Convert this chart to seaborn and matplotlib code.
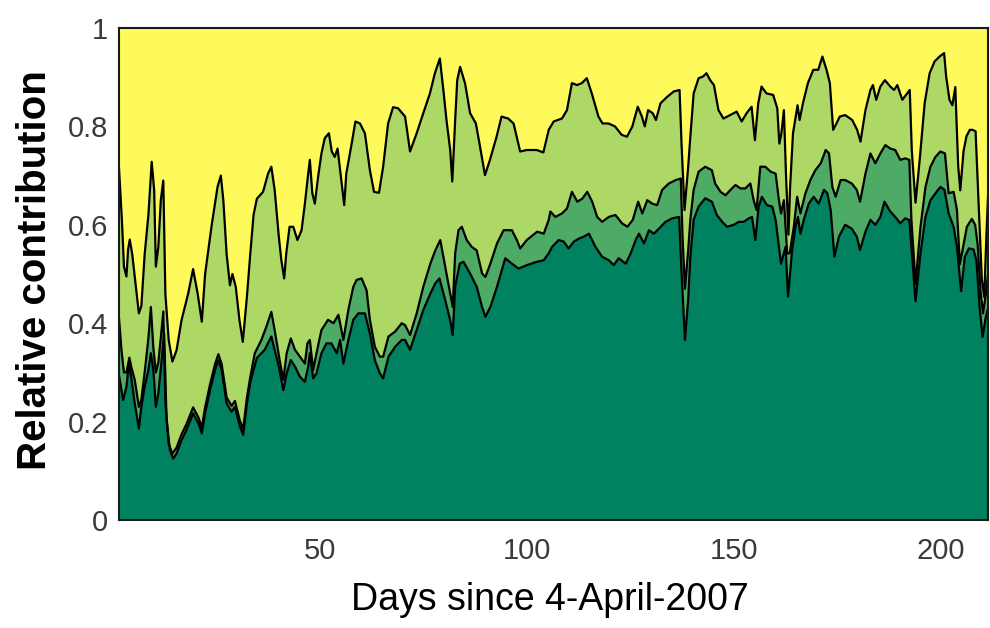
import numpy as np
import matplotlib
matplotlib.use("Agg")
import matplotlib.pyplot as plt
import seaborn as sns
import pandas as pd

# Upper edge of the "light" layer (cumulative share of the three lower groups)
top_days = [1.5, 2.2, 2.7, 3.3, 3.7, 4.1, 4.7, 5.3, 6.3, 6.9, 7.7, 8.6, 9.4, 10.0, 10.4, 11.0,
            11.6, 12.2, 12.7, 13.5, 14.4, 15.4, 16.6, 18.2, 19.4, 20.5, 21.5, 22.3, 23.9, 25.3,
            26.1, 26.7, 27.5, 28.3, 28.9, 29.7, 30.6, 31.4, 32.4, 33.2, 34.0, 34.8, 36.3, 37.5,
            38.3, 39.1, 40.1, 40.7, 41.4, 41.9, 42.7, 43.6, 44.6, 45.6, 46.4, 47.2, 47.6, 48.2,
            48.8, 49.6, 50.4, 51.2, 52.2, 52.9, 53.6, 54.3, 55.1, 55.9, 56.4, 57.7, 58.6, 59.7,
            60.9, 62.1, 63.1, 64.3, 65.3, 66.5, 67.7, 68.9, 70.6, 71.8, 73.4, 75.0, 76.6, 77.8,
            79.0, 79.9, 80.6, 81.5, 82.0, 82.7, 83.2, 83.9, 85.1, 86.3, 87.7, 88.7, 89.9, 91.1,
            92.7, 93.9, 95.5, 96.8, 98.4, 100.0, 102.4, 104.0, 105.3, 106.5, 108.5, 109.7, 110.9,
            112.1, 113.3, 114.5, 115.7, 117.3, 118.3, 119.7, 121.3, 122.9, 124.2, 125.5, 126.8,
            127.8, 128.5, 129.3, 130.4, 131.2, 132.3, 133.9, 135.5, 136.9, 137.4, 138.1, 139.0,
            139.5, 140.3, 141.5, 142.5, 143.4, 144.3, 145.2, 146.3, 147.5, 149.1, 150.7, 151.9,
            153.1, 154.3, 155.1, 155.9, 156.7, 157.9, 159.5, 160.5, 161.0, 161.5, 162.1, 162.6,
            163.2, 163.6, 164.3, 165.0, 165.4, 165.9, 166.7, 167.9, 169.2, 170.4, 171.4, 172.4,
            173.2, 174.0, 174.8, 175.6, 176.9, 178.6, 179.8, 180.6, 181.8, 183.0, 183.6, 184.4,
            185.4, 186.5, 187.8, 188.7, 189.5, 190.7, 192.5, 193.0, 193.9, 194.9, 196.1, 197.3,
            198.5, 199.7, 200.8, 201.3, 202.1, 202.8, 203.5, 204.2, 204.7, 205.5, 206.2, 207.0,
            207.7, 208.4, 208.9, 209.4, 209.9, 210.5, 211.0, 211.4]
top_share = [.715, .61, .515, .495, .55, .57, .54, .495, .42, .435, .54, .62, .728, .67, .515, .555,
             .65, .69, .46, .366, .322, .345, .406, .46, .51, .46, .403, .50, .60, .677,
             .70, .65, .54, .477, .50, .474, .406, .362, .454, .54, .62, .653, .667, .704,
             .718, .671, .576, .529, .491, .542, .596, .596, .569, .589, .643, .704, .732, .664,
             .643, .698, .745, .776, .786, .749, .738, .755, .698, .64, .704, .765, .810, .806,
             .786, .711, .667, .665, .718, .806, .839, .837, .82, .749, .786, .827, .867, .908,
             .938, .87, .813, .752, .688, .813, .894, .921, .887, .827, .806, .759, .701, .732,
             .779, .82, .816, .806, .749, .752, .752, .747, .793, .81, .816, .833, .888,
             .884, .888, .898, .867, .82, .806, .806, .80, .783, .779, .80, .84,
             .82, .80, .833, .827, .813, .847, .86, .871, .874, .76, .63, .72,
             .779, .867, .898, .901, .908, .894, .884, .833, .816, .823, .83, .81,
             .827, .84, .772, .847, .881, .867, .864, .837, .765, .786, .833, .704,
             .58, .677, .786, .823, .843, .813, .847, .888, .915, .915, .942, .915,
             .888, .793, .806, .82, .823, .813, .793, .769, .833, .874, .884, .854,
             .881, .894, .881, .874, .884, .854, .874, .75, .645, .732, .847, .908,
             .932, .942, .949, .901, .854, .843, .88, .72, .67, .75, .78, .793,
             .793, .79, .69, .59, .49, .453, .575, .657]

# Upper edge of the "medium" layer (cumulative share of the two lower groups)
mid_days = [1.5, 2.1, 2.7, 3.3, 4.0, 4.5, 5.3, 6.3, 6.9, 7.7, 8.6, 9.2, 9.8, 10.4, 11.0, 11.6,
            12.2, 12.7, 13.5, 14.4, 15.4, 16.6, 17.8, 19.4, 20.7, 21.5, 22.3, 23.5, 24.7, 25.5,
            26.3, 27.5, 28.7, 29.5, 30.7, 31.5, 32.4, 33.2, 34.3, 35.9, 37.1, 38.3, 39.1, 40.3,
            41.2, 42.0, 43.0, 44.0, 45.2, 46.4, 47.0, 47.6, 48.4, 49.2, 50.4, 52.0, 53.3, 54.5,
            55.7, 56.9, 58.1, 58.9, 60.1, 61.3, 62.1, 63.3, 64.5, 65.3, 66.6, 68.2, 69.8, 70.6,
            71.8, 73.4, 75.0, 76.7, 77.9, 79.1, 80.3, 81.5, 82.1, 82.7, 83.5, 84.3, 85.5, 86.7,
            87.9, 89.2, 90.0, 91.2, 92.8, 94.4, 96.4, 97.6, 98.4, 100.0, 102.5, 104.1, 105.3,
            105.7, 106.9, 108.5, 109.7, 110.9, 112.2, 113.4, 114.6, 115.8, 117.0, 118.2, 119.8,
            121.4, 123.0, 124.3, 125.6, 126.9, 127.9, 129.1, 130.3, 131.5, 132.7, 134.3, 136.0,
            137.2, 137.6, 138.2, 139.0, 139.5, 140.3, 141.5, 143.1, 144.7, 145.5, 146.8, 148.0,
            149.2, 150.4, 151.6, 152.8, 154.0, 154.8, 155.5, 156.4, 157.6, 158.9, 160.1, 160.9,
            161.4, 162.1, 162.9, 163.5, 164.5, 165.3, 166.1, 167.3, 168.5, 169.7, 171.0, 172.2,
            173.0, 173.8, 174.6, 175.8, 176.9, 178.5, 179.7, 180.5, 181.8, 183.0, 184.2, 185.4,
            186.6, 187.8, 189.0, 190.2, 191.4, 192.4, 192.9, 193.9, 195.1, 196.3, 197.5, 198.7,
            199.9, 201.0, 201.9, 203.1, 203.9, 204.6, 205.5, 206.3, 207.5, 208.3, 208.9, 209.6,
            210.2, 210.9, 211.4]
mid_share = [.41, .345, .30, .30, .33, .31, .285, .23, .245, .30, .37, .433, .35, .30, .32, .37,
             .424, .24, .155, .135, .147, .174, .195, .229, .208, .188, .229, .276, .317, .337,
             .317, .249, .232, .242, .202, .185, .249, .29, .339, .366, .393, .423, .386, .325,
             .285, .339, .369, .346, .332, .318, .359, .366, .305, .339, .386, .407, .40, .417,
             .366, .427, .474, .488, .491, .467, .407, .352, .332, .332, .373, .383, .40, .396,
             .376, .42, .474, .521, .548, .569, .515, .46, .433, .542, .589, .596, .569, .555,
             .548, .501, .494, .521, .562, .589, .589, .569, .552, .569, .586, .582, .61,
             .627, .616, .623, .633, .667, .647, .653, .667, .647, .616, .606, .616,
             .62, .603, .596, .61, .647, .623, .65, .643, .64, .671, .684, .691,
             .694, .58, .47, .55, .61, .671, .708, .718, .711, .684, .667, .66,
             .671, .681, .674, .674, .684, .65, .63, .718, .718, .708, .704, .65,
             .623, .65, .542, .542, .596, .657, .623, .664, .691, .711, .725, .752,
             .745, .677, .657, .691, .691, .684, .671, .647, .704, .745, .725, .745,
             .762, .755, .752, .732, .735, .732, .61, .48, .596, .677, .718, .738,
             .749, .745, .664, .667, .63, .52, .56, .596, .612, .60, .56, .465,
             .42, .46, .50]

# Upper edge of the "dark" layer (share of the lowest group)
low_days = [1.5, 2.5, 3.3, 3.9, 4.5, 5.3, 6.3, 6.9, 7.7, 8.6, 9.2, 9.8, 10.4, 11.0, 11.8, 12.4,
            13.0, 13.8, 14.6, 15.4, 16.6, 17.8, 19.4, 20.7, 21.5, 22.3, 23.5, 24.7, 25.5, 26.3,
            27.5, 28.7, 29.5, 30.7, 31.5, 32.4, 33.2, 34.0, 34.8, 35.1, 36.7, 38.3, 39.1, 40.1,
            41.2, 42.0, 43.0, 44.0, 45.2, 46.4, 47.2, 47.6, 48.4, 49.2, 50.4, 51.6, 52.8, 54.1,
            54.9, 55.7, 56.9, 58.1, 59.3, 60.9, 62.1, 63.3, 64.5, 65.3, 66.6, 68.2, 69.8, 70.6,
            71.8, 73.4, 75.0, 76.7, 77.9, 78.9, 80.3, 81.5, 82.1, 82.7, 83.8, 84.7, 86.3, 87.9,
            89.2, 90.0, 91.2, 92.8, 94.8, 96.4, 98.0, 100.0, 102.5, 104.1, 105.3, 106.1, 107.7,
            108.9, 110.1, 111.4, 112.6, 113.8, 115.0, 116.6, 118.2, 119.8, 121.0, 122.2, 123.9,
            125.1, 126.3, 127.1, 128.3, 129.5, 130.7, 131.9, 133.5, 135.1, 136.8, 137.4, 138.2,
            139.0, 139.5, 140.3, 141.5, 143.1, 144.7, 145.9, 147.2, 148.4, 150.0, 151.2, 152.4,
            153.6, 154.4, 155.2, 156.0, 156.8, 158.0, 159.3, 160.1, 160.9, 161.4, 162.5, 163.1,
            164.1, 164.9, 165.5, 166.1, 166.9, 168.1, 169.3, 170.5, 171.8, 172.6, 173.4, 174.3,
            175.4, 176.9, 178.5, 179.7, 180.5, 181.8, 183.0, 184.2, 185.4, 186.4, 187.8, 189.0,
            190.2, 191.4, 192.4, 192.9, 193.9, 195.1, 196.3, 197.5, 198.7, 199.9, 200.9, 201.9,
            203.1, 203.9, 204.9, 205.8, 206.8, 207.9, 208.6, 209.4, 210.1, 210.8, 211.4]
low_share = [.294, .244, .271, .318, .288, .237, .186, .23, .271, .305, .339, .305, .23, .257, .325, .379,
             .203, .142, .125, .135, .162, .183, .217, .196, .176, .217, .264, .305, .325, .305,
             .237, .22, .23, .19, .173, .237, .278, .305, .329, .332, .346, .373, .346, .312,
             .264, .298, .325, .312, .291, .281, .312, .339, .288, .298, .339, .359, .359, .339,
             .366, .318, .366, .407, .42, .42, .379, .325, .298, .288, .332, .352, .366, .366,
             .346, .386, .427, .46, .481, .491, .447, .406, .376, .474, .521, .525, .501, .474,
             .433, .413, .433, .474, .532, .521, .511, .518, .525, .528, .542, .555, .569,
             .566, .552, .566, .572, .576, .582, .555, .535, .528, .518, .532, .521,
             .542, .569, .582, .562, .589, .582, .592, .606, .613, .616, .50, .366,
             .45, .535, .61, .637, .654, .647, .62, .606, .596, .60, .606, .606,
             .613, .616, .569, .637, .657, .64, .637, .61, .555, .521, .555, .454,
             .549, .596, .616, .582, .61, .643, .657, .643, .671, .664, .630, .535,
             .576, .60, .592, .576, .549, .586, .61, .60, .616, .647, .627, .616,
             .603, .613, .61, .555, .445, .542, .616, .65, .664, .677, .671, .623,
             .596, .555, .465, .535, .552, .55, .528, .43, .372, .41, .43]

x_ticks = [50, 100, 150, 200]
y_ticks = [0, 0.2, 0.4, 0.6, 0.8, 1]
y_tick_labels = ["0", "0.2", "0.4", "0.6", "0.8", "1"]

colors = {
    "top": "#FFFA5C",
    "light": "#ADD865",
    "mid": "#4DAB66",
    "low": "#008260",
}

sns.set_theme(style="white")
plt.rcParams["font.family"] = ["Liberation Sans", "DejaVu Sans"]

fig = plt.figure(figsize=(9.9, 6.28), dpi=100)
ax = fig.add_axes([119 / 990, 1 - 520 / 628, 869 / 990, 492 / 628])
ax.set_facecolor(colors["top"])

layers = [
    ("light", top_days, top_share),
    ("mid", mid_days, mid_share),
    ("low", low_days, low_share),
]
for name, days, share in layers:
    ax.fill_between(days, 0, share, color=colors[name], linewidth=0, zorder=2)

for name, days, share in layers:
    df = pd.DataFrame({"day": days, "share": share})
    sns.lineplot(data=df, x="day", y="share", ax=ax, color="black",
                 linewidth=1.6, estimator=None, sort=True, zorder=3)

ax.set_xlim(1.5, 211.4)
ax.set_ylim(0, 1)
ax.set_xticks(x_ticks)
ax.set_xticklabels([str(t) for t in x_ticks])
ax.set_yticks(y_ticks)
ax.set_yticklabels(y_tick_labels)
ax.tick_params(axis="both", length=0, labelsize=21, labelcolor="#3a3a3a")
ax.tick_params(axis="y", pad=8)
ax.tick_params(axis="x", pad=12)

for sp in ax.spines.values():
    sp.set_color("#1a1a1a")
    sp.set_linewidth(1.5)
    sp.set_zorder(5)

ax.set_xlabel("Days since 4-April-2007", fontsize=27, color="black", va="center")
ax.xaxis.set_label_coords(0.496, -0.163)
ax.set_ylabel("Relative contribution", fontsize=29, fontweight="bold", color="black",
              va="center")
ax.yaxis.set_label_coords(-0.097, 0.508)

fig.savefig("out.png", dpi=100)
